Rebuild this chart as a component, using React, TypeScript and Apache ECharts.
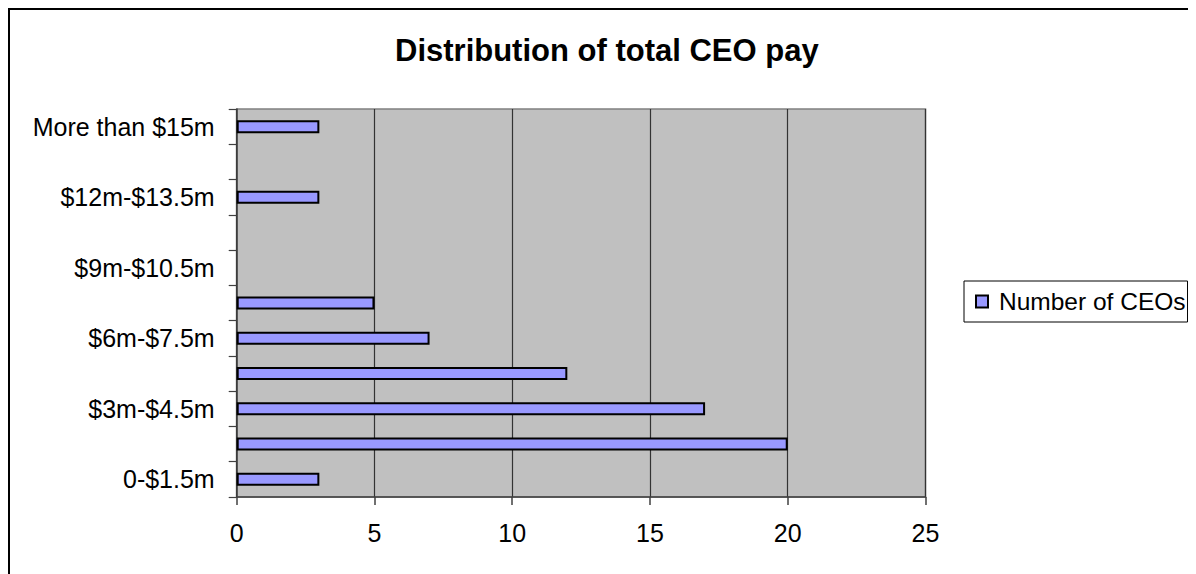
import React, { useEffect, useRef } from "react";
import * as echarts from "echarts";

const categories = [
  "0-$1.5m",
  "$1.5m-$3m",
  "$3m-$4.5m",
  "$4.5m-$6m",
  "$6m-$7.5m",
  "$7.5m-$9m",
  "$9m-$10.5m",
  "$10.5m-$12m",
  "$12m-$13.5m",
  "$13.5m-$15m",
  "More than $15m",
];
const numberOfCEOs = [3, 20, 17, 12, 7, 5, 0, 0, 3, 0, 3];
const seriesName = "Number of CEOs";
const titleText = "Distribution of total CEO pay";

const FONT = "'Liberation Sans', Arial, sans-serif";

export default function App() {
  const ref = useRef<HTMLDivElement>(null);
  useEffect(() => {
    if (!ref.current) return;
    const chart = echarts.init(ref.current, null, { renderer: "svg" });
    chart.setOption({
      animation: false,
      backgroundColor: "#ffffff",
      title: {
        text: titleText,
        left: 382,
        top: 22,
        padding: 5,
        textStyle: { fontFamily: FONT, fontSize: 31, fontWeight: "bold", color: "#000" },
      },
      legend: {
        data: [seriesName],
        left: 956,
        top: 273,
        orient: "vertical",
        padding: [8, 2, 8, 11],
        backgroundColor: "#fff",
        borderColor: "#000",
        borderWidth: 1,
        borderRadius: 0,
        itemWidth: 12,
        itemHeight: 12,
        icon: "rect",
        textStyle: { fontFamily: FONT, fontSize: 24.5, color: "#000", padding: [0, 0, 0, 6] },
      },
      grid: {
        left: 228.7,
        top: 101,
        right: 270.5,
        bottom: 77,
        show: true,
        backgroundColor: "#C0C0C0",
        borderColor: "#808080",
        borderWidth: 1.5,
        containLabel: false,
      },
      xAxis: {
        type: "value",
        min: 0,
        max: 25,
        interval: 5,
        axisLine: { show: true, lineStyle: { color: "#404040", width: 1.5 } },
        axisTick: { show: true, length: 8, lineStyle: { color: "#404040", width: 1.5 } },
        axisLabel: { fontFamily: FONT, fontSize: 25, color: "#000", margin: 23 },
        splitLine: { show: true, lineStyle: { color: "#333333", width: 1.2 } },
      },
      yAxis: {
        type: "category",
        data: categories,
        axisLine: { show: true, lineStyle: { color: "#404040", width: 1.5 } },
        axisTick: { show: true, interval: 0, length: 8, lineStyle: { color: "#404040", width: 1.2 } },
        axisLabel: { interval: 1, fontFamily: FONT, fontSize: 25, color: "#000", margin: 22 },
        splitLine: { show: false },
      },
      series: [
        {
          name: seriesName,
          type: "bar",
          barWidth: 13,
          itemStyle: { color: "#9999FF", borderColor: "#000", borderWidth: 2 },
          data: numberOfCEOs.map((v) =>
            v === 0 ? { value: v, itemStyle: { borderWidth: 0 } } : v
          ),
        },
      ],
      graphic: [
        { type: "line", shape: { x1: 1, y1: 0, x2: 1, y2: 566 }, style: { stroke: "#000", lineWidth: 2 } },
        { type: "line", shape: { x1: 0, y1: 1, x2: 1188, y2: 1 }, style: { stroke: "#000", lineWidth: 2 } },
      ],
    });
    return () => chart.dispose();
  }, []);
  return <div ref={ref} style={{ width: 1188, height: 566 }} />;
}
